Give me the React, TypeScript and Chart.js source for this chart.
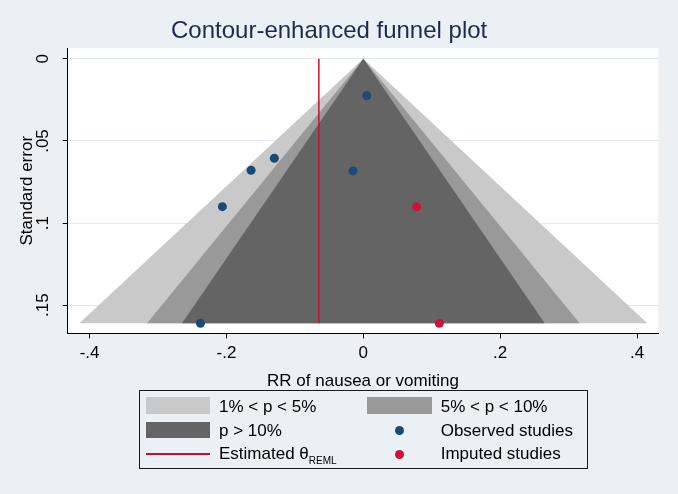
import React, { useEffect, useRef } from "react";
import { Chart, registerables } from "chart.js";

Chart.register(...registerables);

// ---- data ----
const observedX = [0.005, -0.13, -0.164, -0.206, -0.015, -0.238];
const observedSE = [0.0224, 0.0605, 0.0678, 0.09, 0.0682, 0.161];
const imputedX = [0.078, 0.111];
const imputedSE = [0.09, 0.161];
const thetaREML = -0.065;
const seMax = 0.161;
const contourLabels = ["1% < p < 5%", "5% < p < 10%", "p > 10%"];
const contourHalfWidths = [0.415, 0.316, 0.265];
const xTickValues = [-0.4, -0.2, 0, 0.2, 0.4];
const xTickLabels = ["-.4", "-.2", "0", ".2", ".4"];
const yTickValues = [0, 0.05, 0.1, 0.15];
const yTickLabels = ["0", ".05", ".1", ".15"];

// ---- styles ----
const FONT = "'Liberation Sans', Arial, Helvetica, sans-serif";
const BG = "#eaf0f4";
const contourColors = ["#c9c9c9", "#999999", "#646464"];
const BLUE = "#1a4a7a";
const RED = "#d0103a";
const LINE_RED = "#c8102e";

const whiteArea = {
  id: "whiteArea",
  beforeDraw(chart: any) {
    const { ctx, chartArea } = chart;
    ctx.save();
    ctx.fillStyle = "#ffffff";
    ctx.fillRect(chartArea.left, chartArea.top, chartArea.right - chartArea.left, chartArea.bottom - chartArea.top);
    ctx.restore();
  },
};

function labelFor(values: number[], labels: string[], v: number) {
  const i = values.findIndex((t) => Math.abs(t - v) < 1e-9);
  return i >= 0 ? labels[i] : "";
}

export default function App() {
  const ref = useRef<HTMLCanvasElement | null>(null);

  useEffect(() => {
    if (!ref.current) return;
    const contourSets = contourHalfWidths.map((hw, i) => ({
      type: "line" as const,
      label: contourLabels[i],
      data: [
        { x: -hw, y: seMax },
        { x: 0, y: 0 },
        { x: hw, y: seMax },
      ],
      borderWidth: 0,
      borderColor: "rgba(0,0,0,0)",
      backgroundColor: contourColors[i],
      fill: { value: seMax },
      pointRadius: 0,
      tension: 0,
      order: 10 - i,
    }));
    const chart = new Chart(ref.current, {
      type: "scatter",
      data: {
        datasets: [
          ...contourSets,
          {
            type: "line" as const,
            label: "Estimated θREML",
            data: [
              { x: thetaREML, y: 0 },
              { x: thetaREML, y: seMax },
            ],
            borderColor: LINE_RED,
            borderWidth: 1.5,
            pointRadius: 0,
            fill: false,
            order: 2,
          },
          {
            type: "scatter" as const,
            label: "Observed studies",
            data: observedX.map((x, i) => ({ x, y: observedSE[i] })),
            backgroundColor: BLUE,
            pointBackgroundColor: BLUE,
            pointBorderWidth: 0,
            pointRadius: 4.5,
            pointHoverRadius: 4.5,
            order: 0,
          },
          {
            type: "scatter" as const,
            label: "Imputed studies",
            data: imputedX.map((x, i) => ({ x, y: imputedSE[i] })),
            backgroundColor: RED,
            pointBackgroundColor: RED,
            pointBorderWidth: 0,
            pointRadius: 4.5,
            pointHoverRadius: 4.5,
            order: 0,
          },
        ] as any,
      },
      options: {
        animation: false,
        responsive: false,
        layout: { padding: { left: 0, right: 19.7, top: 0, bottom: 102.3 } },
        plugins: {
          legend: { display: false },
          tooltip: { enabled: false },
          title: {
            display: true,
            text: "Contour-enhanced funnel plot",
            color: "#1d2a50",
            font: { family: FONT, size: 24, weight: "normal" },
            padding: { top: 17, bottom: 2.4 },
          },
        },
        scales: {
          x: {
            type: "linear",
            min: -0.432,
            max: 0.431,
            afterBuildTicks: (s: any) => {
              s.ticks = xTickValues.map((v) => ({ value: v }));
            },
            afterFit: (s: any) => {
              s.height = 58.4;
            },
            ticks: {
              callback: (v: any) => labelFor(xTickValues, xTickLabels, Number(v)),
              color: "#000",
              font: { family: FONT, size: 17 },
              padding: 4.5,
              autoSkip: false,
              maxRotation: 0,
            },
            grid: { drawOnChartArea: false, tickLength: 5, tickColor: "#000", tickWidth: 1 },
            border: { color: "#000", width: 1 },
            title: {
              display: true,
              text: "RR of nausea or vomiting",
              color: "#000",
              font: { family: FONT, size: 17 },
              padding: { top: 0, bottom: 0 },
            },
          },
          y: {
            type: "linear",
            reverse: true,
            min: -0.0065,
            max: 0.1671,
            afterBuildTicks: (s: any) => {
              s.ticks = yTickValues.map((v) => ({ value: v }));
            },
            afterFit: (s: any) => {
              s.width = 67.7;
            },
            ticks: {
              callback: (v: any) => labelFor(yTickValues, yTickLabels, Number(v)),
              color: "#000",
              font: { family: FONT, size: 17 },
              padding: 7.7,
              autoSkip: false,
              minRotation: 90,
              maxRotation: 90,
              crossAlign: "center",
            },
            grid: { color: "#e2e9ef", lineWidth: 1, tickLength: 5, tickColor: "#000", tickWidth: 1 },
            border: { color: "#000", width: 1 },
            title: {
              display: true,
              text: "Standard error",
              color: "#000",
              font: { family: FONT, size: 17 },
              padding: { top: 17, bottom: 0 },
            },
          },
        },
      } as any,
      plugins: [whiteArea],
    });
    return () => chart.destroy();
  }, []);

  const text: React.CSSProperties = {
    position: "absolute",
    fontFamily: FONT,
    fontSize: 17,
    lineHeight: "20px",
    color: "#000",
    whiteSpace: "nowrap",
  };
  const dot = (c: string, cx: number, cy: number): React.CSSProperties => ({
    position: "absolute",
    left: cx - 4.5,
    top: cy - 4.5,
    width: 9,
    height: 9,
    borderRadius: "50%",
    background: c,
  });

  return (
    <div style={{ position: "absolute", left: 0, top: 0, width: 678, height: 494, background: BG, overflow: "hidden" }}>
      <canvas ref={ref} width={678} height={494} style={{ position: "absolute", left: 0, top: 0, width: 678, height: 494 }} />
      <div
        style={{
          position: "absolute",
          left: 139,
          top: 390,
          width: 447,
          height: 77,
          border: "1px solid #1a1a1a",
        }}
      >
        <div style={{ position: "absolute", left: 6, top: 6.3, width: 64, height: 16.7, background: contourColors[0] }} />
        <div style={{ ...text, left: 79, top: 5.7 }}>{contourLabels[0]}</div>
        <div style={{ position: "absolute", left: 227, top: 6.3, width: 65, height: 16.7, background: contourColors[1] }} />
        <div style={{ ...text, left: 300.7, top: 5.7 }}>{contourLabels[1]}</div>

        <div style={{ position: "absolute", left: 6, top: 30.7, width: 64, height: 16.7, background: contourColors[2] }} />
        <div style={{ ...text, left: 79, top: 29.5 }}>{contourLabels[2]}</div>
        <div style={dot(BLUE, 259, 39)} />
        <div style={{ ...text, left: 300.7, top: 29.5 }}>Observed studies</div>

        <div style={{ position: "absolute", left: 6, top: 62, width: 64, height: 2, background: LINE_RED }} />
        <div style={{ ...text, left: 79, top: 53 }}>
          Estimated θ<sub style={{ fontSize: 10, verticalAlign: "-5px", lineHeight: 0 }}>REML</sub>
        </div>
        <div style={dot(RED, 259, 63)} />
        <div style={{ ...text, left: 300.7, top: 53 }}>Imputed studies</div>
      </div>
    </div>
  );
}
